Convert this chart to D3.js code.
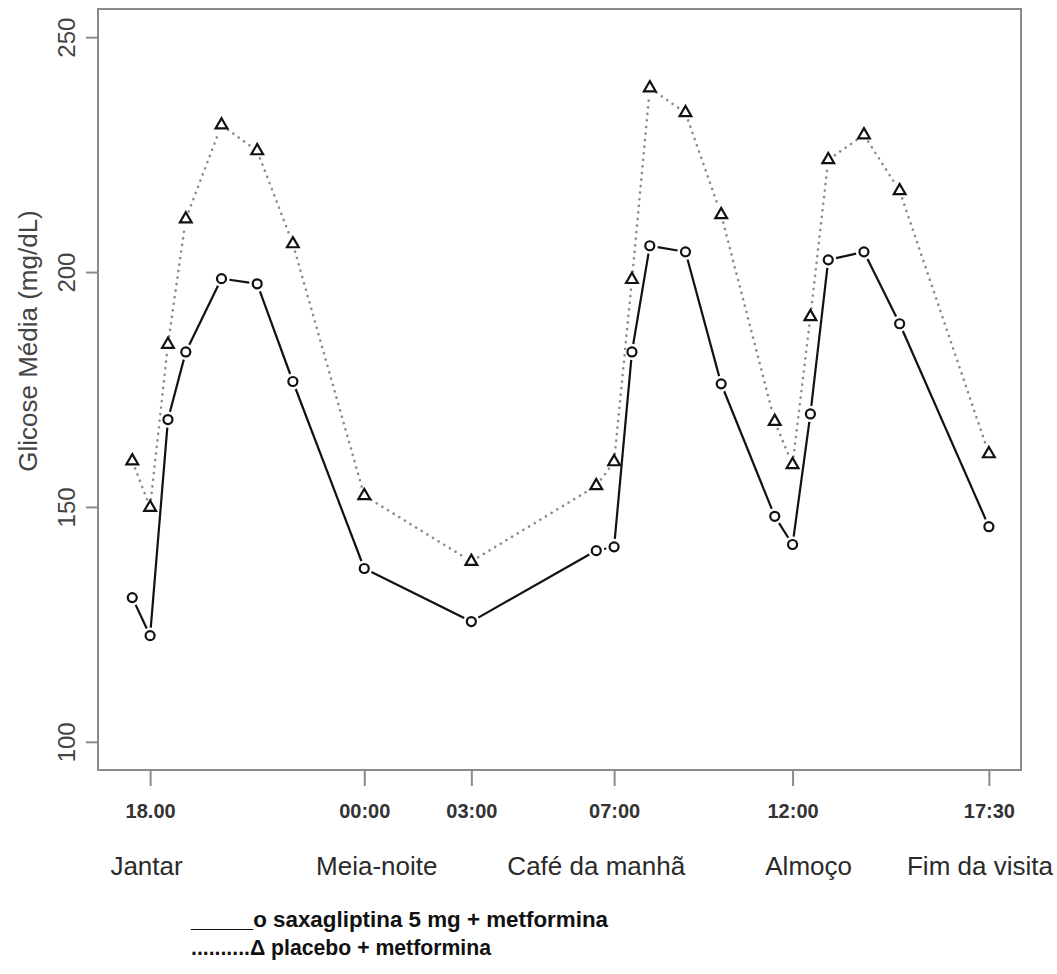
<!DOCTYPE html>
<html lang="pt">
<head>
<meta charset="UTF-8">
<title>Glicose Média</title>
<script src="https://cdn.jsdelivr.net/npm/d3@7"></script>
<style>
  body { margin: 0; background: #fff; }
  .axis path, .axis line { fill: none; stroke: #8a8a8a; stroke-width: 2; }
  .axis text { font-family: "Liberation Sans", Arial, sans-serif; fill: #444; }
</style>
</head>
<body>
<script>
// hours after 18:00 for each measurement
const hours = [-0.5, 0, 0.5, 1, 2, 3, 4, 6, 9, 12.5, 13, 13.5, 14, 15, 16, 17.5, 18, 18.5, 19, 20, 21, 23.5];
const saxa = [130.7, 122.6, 168.6, 183, 198.6, 197.5, 176.7, 136.9, 125.6, 140.7, 141.5, 183, 205.6, 204.3, 176.2, 148, 142, 169.8, 202.6, 204.3, 189, 145.8];
const placebo = [159.8, 149.9, 184.6, 211.3, 231.3, 225.8, 206, 152.4, 138.4, 154.5, 159.6, 198.4, 239.2, 233.9, 212.2, 168.2, 159, 190.5, 223.9, 229.2, 217.3, 161.3];

const xTickHours = [0, 6, 9, 13, 18, 23.5];
const xTickLabels = ["18.00", "00:00", "03:00", "07:00", "12:00", "17:30"];
const mealLabels = ["Jantar", "Meia-noite", "Café da manhã", "Almoço", "Fim da visita"];
const mealHours = [-0.1, 6.35, 12.5, 18.45, 23.25];
const yTicks = [100, 150, 200, 250];

const W = 1057, H = 974;
const mLeft = 98, mRight = 1021, mTop = 9, mBottom = 770;

const svg = d3.select("body").append("svg").attr("width", W).attr("height", H);

const x = d3.scaleLinear().domain([-1.46, 24.4]).range([mLeft, mRight]);
const y = d3.scaleLinear().domain([94, 256]).range([mBottom, mTop]);

// box
svg.append("rect")
  .attr("x", mLeft).attr("y", mTop)
  .attr("width", mRight - mLeft).attr("height", mBottom - mTop)
  .attr("fill", "none").attr("stroke", "#8a8a8a").attr("stroke-width", 2);

// y axis
const yAxis = svg.append("g").attr("class", "axis")
  .attr("transform", "translate(" + mLeft + ",0)")
  .call(d3.axisLeft(y).tickValues(yTicks).tickSize(12).tickSizeOuter(0));
yAxis.select(".domain").remove();
yAxis.selectAll(".tick text")
  .attr("transform", "translate(-23,0) rotate(-90)")
  .attr("x", 0).attr("y", 0).attr("dy", null)
  .attr("text-anchor", "middle")
  .style("font-size", "24px");

// x axis
const xAxis = svg.append("g").attr("class", "axis")
  .attr("transform", "translate(0," + mBottom + ")")
  .call(d3.axisBottom(x).tickValues(xTickHours).tickSize(16).tickSizeOuter(0)
    .tickFormat((d, i) => xTickLabels[i]));
xAxis.select(".domain").remove();
xAxis.selectAll("text")
  .attr("y", 48).attr("dy", null)
  .style("font-weight", "bold")
  .style("font-size", "20px")
  .style("fill", "#333");

// meal labels
svg.append("g").selectAll("text")
  .data(mealLabels)
  .enter().append("text")
  .attr("x", (d, i) => x(mealHours[i]))
  .attr("y", 875)
  .attr("text-anchor", "middle")
  .style("font-family", "'Liberation Sans', Arial, sans-serif")
  .style("font-size", "26px")
  .style("fill", "#2a2a2a")
  .text(d => d);

// y title
svg.append("text")
  .attr("transform", "translate(37,341) rotate(-90)")
  .attr("text-anchor", "middle")
  .style("font-family", "'Liberation Sans', Arial, sans-serif")
  .style("font-size", "26px")
  .style("fill", "#444")
  .text("Glicose Média (mg/dL)");

// R type="b" style: segments with gaps around points
function gappedSegments(vals, gap) {
  const segs = [];
  for (let i = 0; i < vals.length - 1; i++) {
    const x0 = x(hours[i]), y0 = y(vals[i]);
    const x1 = x(hours[i + 1]), y1 = y(vals[i + 1]);
    const dx = x1 - x0, dy = y1 - y0;
    const len = Math.hypot(dx, dy);
    if (len <= 2 * gap) continue;
    const ux = dx / len, uy = dy / len;
    segs.push([[x0 + ux * gap, y0 + uy * gap], [x1 - ux * gap, y1 - uy * gap]]);
  }
  return segs;
}
const line = d3.line();

svg.append("g").selectAll("path")
  .data(gappedSegments(placebo, 8))
  .enter().append("path")
  .attr("d", line)
  .attr("fill", "none")
  .attr("stroke", "#8c8c8c")
  .attr("stroke-width", 2.6)
  .attr("stroke-linecap", "round")
  .attr("stroke-dasharray", "0.1,6.5");

svg.append("g").selectAll("path")
  .data(gappedSegments(saxa, 8))
  .enter().append("path")
  .attr("d", line)
  .attr("fill", "none")
  .attr("stroke", "#111")
  .attr("stroke-width", 2.2);

// markers
svg.append("g").selectAll("circle")
  .data(saxa)
  .enter().append("circle")
  .attr("cx", (d, i) => x(hours[i]))
  .attr("cy", d => y(d))
  .attr("r", 4.5)
  .attr("fill", "none")
  .attr("stroke", "#111")
  .attr("stroke-width", 2.2);

svg.append("g").selectAll("path")
  .data(placebo)
  .enter().append("path")
  .attr("d", d3.symbol().type(d3.symbolTriangle).size(60))
  .attr("transform", (d, i) => "translate(" + x(hours[i]) + "," + y(d) + ")")
  .attr("fill", "none")
  .attr("stroke", "#111")
  .attr("stroke-width", 2.2);

// legend
const legend = svg.append("g")
  .style("font-family", "'Liberation Sans', Arial, sans-serif")
  .style("font-weight", "bold")
  .style("font-size", "22px")
  .style("fill", "#111");
legend.append("text").attr("x", 191).attr("y", 927)
  .attr("textLength", 417).attr("lengthAdjust", "spacingAndGlyphs")
  .text("_____o saxagliptina 5 mg + metformina");
legend.append("text").attr("x", 191).attr("y", 955)
  .attr("textLength", 300).attr("lengthAdjust", "spacingAndGlyphs")
  .text("..........Δ placebo + metformina");
</script>
</body>
</html>
